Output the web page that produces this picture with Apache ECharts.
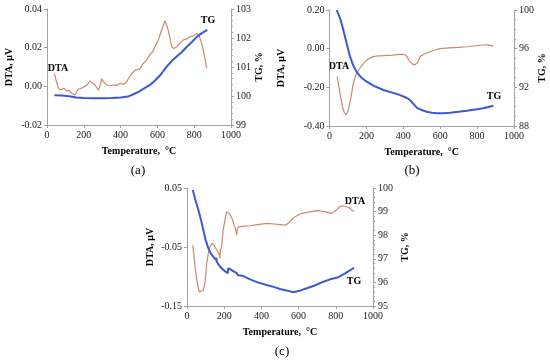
<!DOCTYPE html>
<html>
<head>
<meta charset="utf-8">
<script src="https://cdn.jsdelivr.net/npm/echarts@6/dist/echarts.min.js"></script>
<style>
html,body{margin:0;padding:0;background:#fff;}
#chart{width:550px;height:362px;}
</style>
</head>
<body>
<div id="chart"></div>
<script>
// Panel (a)
const tempDtaA = [40, 50, 60, 70, 80, 95, 107, 120, 134, 152, 170, 185, 197, 215, 234, 248, 261, 279, 290, 297, 310, 325, 343, 361, 380, 397, 415, 434, 442, 460, 475, 487, 505, 520, 541, 560, 575, 587, 605, 623, 642, 659, 668, 678, 690, 705, 720, 741, 760, 777, 795, 814, 825, 841, 855, 868];
const dtaA = [0.0067, 0.003, -0.0005, -0.0018, -0.0019, -0.001, -0.0025, -0.002, -0.0036, -0.0045, -0.0015, -0.001, -0.0005, 0.0005, 0.0028, 0.0015, 0.0007, -0.002, 0.001, 0.004, 0.002, 0.0007, 0.0003, 0.0007, 0.0005, 0.0016, 0.001, 0.0022, 0.004, 0.0065, 0.008, 0.0085, 0.009, 0.0115, 0.0136, 0.0165, 0.018, 0.0205, 0.024, 0.029, 0.0339, 0.029, 0.025, 0.0205, 0.0195, 0.0205, 0.022, 0.024, 0.0245, 0.0257, 0.026, 0.0274, 0.0265, 0.0223, 0.016, 0.0093];
const tempTgA = [40, 80, 120, 160, 200, 250, 300, 350, 400, 440, 470, 500, 530, 560, 590, 620, 650, 680, 705, 730, 760, 790, 814, 840, 871];
const tgA = [100.03, 100.02, 99.99, 99.95, 99.93, 99.92, 99.92, 99.93, 99.95, 99.98, 100.06, 100.15, 100.27, 100.38, 100.55, 100.75, 101.01, 101.22, 101.36, 101.5, 101.7, 101.88, 102.04, 102.16, 102.28];

// Panel (b)
const tempDtaB = [42, 55, 70, 80, 89, 100, 115, 129, 145, 165, 185, 202, 220, 237, 260, 292, 340, 380, 400, 415, 436, 450, 463, 478, 491, 515, 545, 570, 599, 650, 700, 744, 790, 834, 860, 888];
const dtaB = [-0.145, -0.22, -0.30, -0.33, -0.343, -0.325, -0.26, -0.179, -0.13, -0.10, -0.075, -0.059, -0.048, -0.041, -0.037, -0.036, -0.033, -0.03, -0.029, -0.035, -0.067, -0.08, -0.084, -0.07, -0.041, -0.028, -0.016, -0.007, 0.0, 0.004, 0.007, 0.01, 0.015, 0.019, 0.02, 0.013];
const tempTgB = [39, 60, 75, 93, 111, 130, 147, 170, 202, 240, 292, 340, 382, 420, 436, 450, 473, 500, 527, 555, 581, 620, 653, 700, 744, 790, 834, 888];
const tgB = [100.0, 99.0, 97.93, 96.55, 95.2, 94.2, 93.6, 93.05, 92.58, 92.15, 91.72, 91.45, 91.2, 90.9, 90.69, 90.4, 89.9, 89.65, 89.48, 89.38, 89.31, 89.32, 89.38, 89.47, 89.58, 89.7, 89.83, 90.1];

// Panel (c)
const tempDtaC = [31, 38, 43, 55, 66, 75, 88, 97, 106, 115, 120, 133, 145, 160, 170, 177, 180, 186, 195, 201, 213, 222, 231, 245, 253, 260, 267, 270, 276, 300, 339, 380, 428, 470, 500, 530, 550, 575, 608, 650, 700, 740, 778, 800, 820, 840, 870, 898];
const dtaC = [-0.047, -0.065, -0.083, -0.111, -0.126, -0.128, -0.123, -0.111, -0.078, -0.06, -0.052, -0.044, -0.047, -0.055, -0.06, -0.069, -0.055, -0.049, -0.02, -0.01, 0.01, 0.009, 0.005, -0.004, -0.013, -0.018, -0.03, -0.02, -0.016, -0.015, -0.014, -0.012, -0.01, -0.011, -0.012, -0.013, -0.008, 0.0, 0.006, 0.009, 0.0115, 0.01, 0.007, 0.012, 0.018, 0.02, 0.017, 0.01];
const tempTgC = [31, 45, 61, 75, 88, 100, 115, 130, 141, 150, 155, 158, 160, 170, 186, 200, 219, 222, 240, 267, 275, 277, 300, 339, 380, 428, 470, 500, 540, 572, 610, 644, 690, 733, 770, 814, 850, 898];
const tgC = [99.92, 99.5, 99.07, 98.65, 98.22, 97.8, 97.44, 97.2, 97.09, 97.05, 96.95, 97.05, 96.88, 96.75, 96.6, 96.5, 96.39, 96.6, 96.52, 96.39, 96.3, 96.36, 96.28, 96.13, 96.0, 95.89, 95.8, 95.72, 95.65, 95.58, 95.66, 95.75, 95.88, 96.03, 96.13, 96.22, 96.38, 96.62];

const zip = (xs, ys) => xs.map((x, i) => [x, ys[i]]);

const SERIF = 'Liberation Serif';
const DTA_COLOR = '#c98a6e';
const TG_COLOR = '#3d58d6';
const AXIS_COLOR = '#a0a0a0';

function xAx(gi) {
  return {
    type: 'value', gridIndex: gi, min: 0, max: 1000, interval: 200,
    name: 'Temperature,  \u00b0C', nameLocation: 'middle', nameGap: 21,
    nameTextStyle: {fontFamily: SERIF, fontWeight: 'bold', fontSize: 10, color: '#000'},
    axisLine: {show: true, onZero: false, lineStyle: {color: AXIS_COLOR}},
    axisTick: {show: true, length: 3, lineStyle: {color: AXIS_COLOR}},
    axisLabel: {fontFamily: SERIF, fontSize: 10, color: '#222', margin: 5, formatter: v => String(v)},
    splitLine: {show: false}
  };
}
function yAx(gi, pos, min, max, interval, name, gap, dec, minorSplit) {
  return {
    type: 'value', gridIndex: gi, position: pos, min: min, max: max, interval: interval,
    name: name, nameLocation: 'middle', nameGap: gap, nameRotate: 90,
    nameTextStyle: {fontFamily: SERIF, fontWeight: 'bold', fontSize: 10, color: '#000'},
    axisLine: {show: true, onZero: false, lineStyle: {color: AXIS_COLOR}},
    axisTick: {show: true, length: 3, lineStyle: {color: AXIS_COLOR}},
    minorTick: {show: !!minorSplit, splitNumber: minorSplit || 5, length: 2, lineStyle: {color: AXIS_COLOR}},
    axisLabel: {fontFamily: SERIF, fontSize: 10, color: '#222', margin: 5,
      formatter: v => v.toFixed(dec)},
    splitLine: {show: false}
  };
}
function lbl(x, y, t, size, weight) {
  return {type: 'text', x: x, y: y, style: {text: t, fontFamily: SERIF,
    fontSize: size, fontWeight: weight, fill: '#000',
    align: 'center', verticalAlign: 'middle', textAlign: 'center', textVerticalAlign: 'middle'}};
}
function line(xi, yi, data, color, width) {
  return {type: 'line', xAxisIndex: xi, yAxisIndex: yi, data: data, showSymbol: false,
    symbol: 'none', smooth: false, lineStyle: {color: color, width: width}, silent: true, animation: false};
}

const chart = echarts.init(document.getElementById('chart'));
chart.setOption({
  backgroundColor: '#fff',
  animation: false,
  grid: [
    {left: 47, top: 9, width: 184, height: 116},
    {left: 329.5, top: 10, width: 184.5, height: 116},
    {left: 187, top: 188, width: 186, height: 118}
  ],
  xAxis: [xAx(0), xAx(1), xAx(2)],
  yAxis: [
    yAx(0, 'left', -0.02, 0.04, 0.02, 'DTA, \u03bcV', 33, 2, 0),
    yAx(0, 'right', 99, 103, 1, 'TG, %', 22, 0, 5),
    yAx(1, 'left', -0.4, 0.2, 0.2, 'DTA, \u03bcV', 43, 2, 0),
    yAx(1, 'right', 88, 100, 4, 'TG, %', 15, 0, 4),
    yAx(2, 'left', -0.15, 0.05, 0.1, 'DTA, \u03bcV', 32, 2, 0),
    yAx(2, 'right', 95, 100, 1, 'TG, %', 27, 0, 5)
  ],
  series: [
    line(0, 0, zip(tempDtaA, dtaA), DTA_COLOR, 1.2),
    line(0, 1, zip(tempTgA, tgA), TG_COLOR, 2),
    line(1, 2, zip(tempDtaB, dtaB), DTA_COLOR, 1.2),
    line(1, 3, zip(tempTgB, tgB), TG_COLOR, 2),
    line(2, 4, zip(tempDtaC, dtaC), DTA_COLOR, 1.2),
    line(2, 5, zip(tempTgC, tgC), TG_COLOR, 2)
  ],
  graphic: [
    lbl(58, 68, 'DTA', 10, 'bold'),
    lbl(208, 20, 'TG', 10, 'bold'),
    lbl(339, 66, 'DTA', 10, 'bold'),
    lbl(494, 96, 'TG', 10, 'bold'),
    lbl(355, 201, 'DTA', 10, 'bold'),
    lbl(354, 281, 'TG', 10, 'bold'),
    lbl(138, 171, '(a)', 13, 'normal'),
    lbl(412, 171, '(b)', 13, 'normal'),
    lbl(282, 352, '(c)', 13, 'normal')
  ]
});
</script>
</body>
</html>
